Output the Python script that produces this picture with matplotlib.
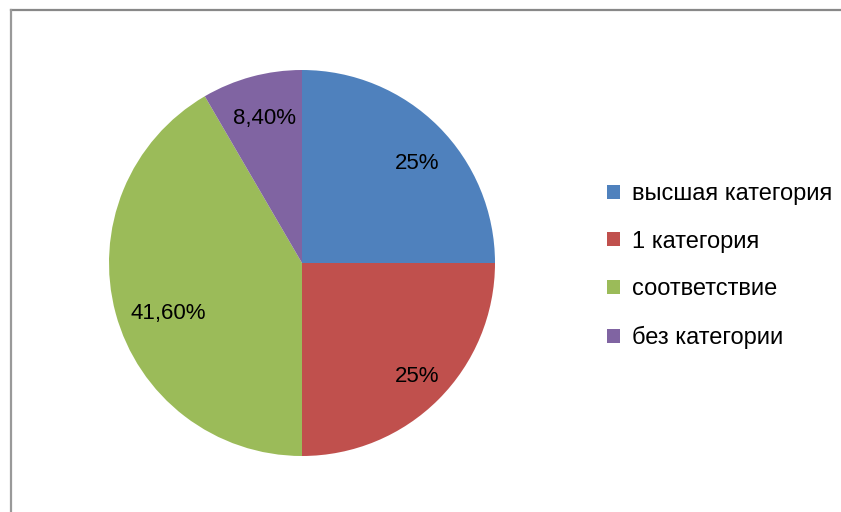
import matplotlib
matplotlib.use("Agg")
import numpy as np
import matplotlib.pyplot as plt
from matplotlib.patches import Patch
from matplotlib.lines import Line2D

categories = ["высшая категория", "1 категория", "соответствие", "без категории"]
values = [25, 25, 41.6, 8.4]
value_labels = ["25%", "25%", "41,60%", "8,40%"]
colors = ["#4F81BD", "#C0504D", "#9BBB59", "#8064A2"]
# label placement: (radial distance, angle offset from wedge middle in degrees)
label_dist = [0.796, 0.830, 0.737, 0.786]
label_dang = [-3.4, 0.9, 4.6, -0.8]

plt.rcParams['font.family'] = ['Liberation Sans', 'DejaVu Sans']

W, H = 841, 512
fig = plt.figure(figsize=(W / 100, H / 100), dpi=100)
fig.patch.set_facecolor("white")

cx, cy, r = 302, H - 263, 193
ax = fig.add_axes([(cx - r) / W, (cy - r) / H, 2 * r / W, 2 * r / H])

wedges, texts = ax.pie(
    values, colors=colors, startangle=90, counterclock=False,
    wedgeprops=dict(linewidth=0),
)
for w, lab, d, da in zip(wedges, value_labels, label_dist, label_dang):
    ang = np.deg2rad((w.theta1 + w.theta2) / 2 + da)
    ax.text(d * np.cos(ang), d * np.sin(ang), lab, ha="center", va="center_baseline",
            fontsize=16, color="black")
ax.set_xlim(-1, 1)
ax.set_ylim(-1, 1)
ax.set_aspect("equal")
ax.axis("off")

handles = [Patch(facecolor=c, edgecolor="none") for c in colors]
fig.legend(handles, categories, loc="upper left",
           bbox_to_anchor=(607 / W, 1 - 183 / H), frameon=False,
           fontsize=17, handlelength=0.55, handleheight=0.55,
           handletextpad=0.5, labelspacing=1.09, borderaxespad=0, borderpad=0)

# chart frame (top and left edges visible)
fig.add_artist(Line2D([11 / W, 1], [1 - 10 / H, 1 - 10 / H], transform=fig.transFigure,
                      color="#888888", linewidth=1.6))
fig.add_artist(Line2D([11 / W, 11 / W], [0, 1 - 10 / H], transform=fig.transFigure,
                      color="#999999", linewidth=1.6))

fig.savefig("out.png", dpi=100, facecolor="white")
